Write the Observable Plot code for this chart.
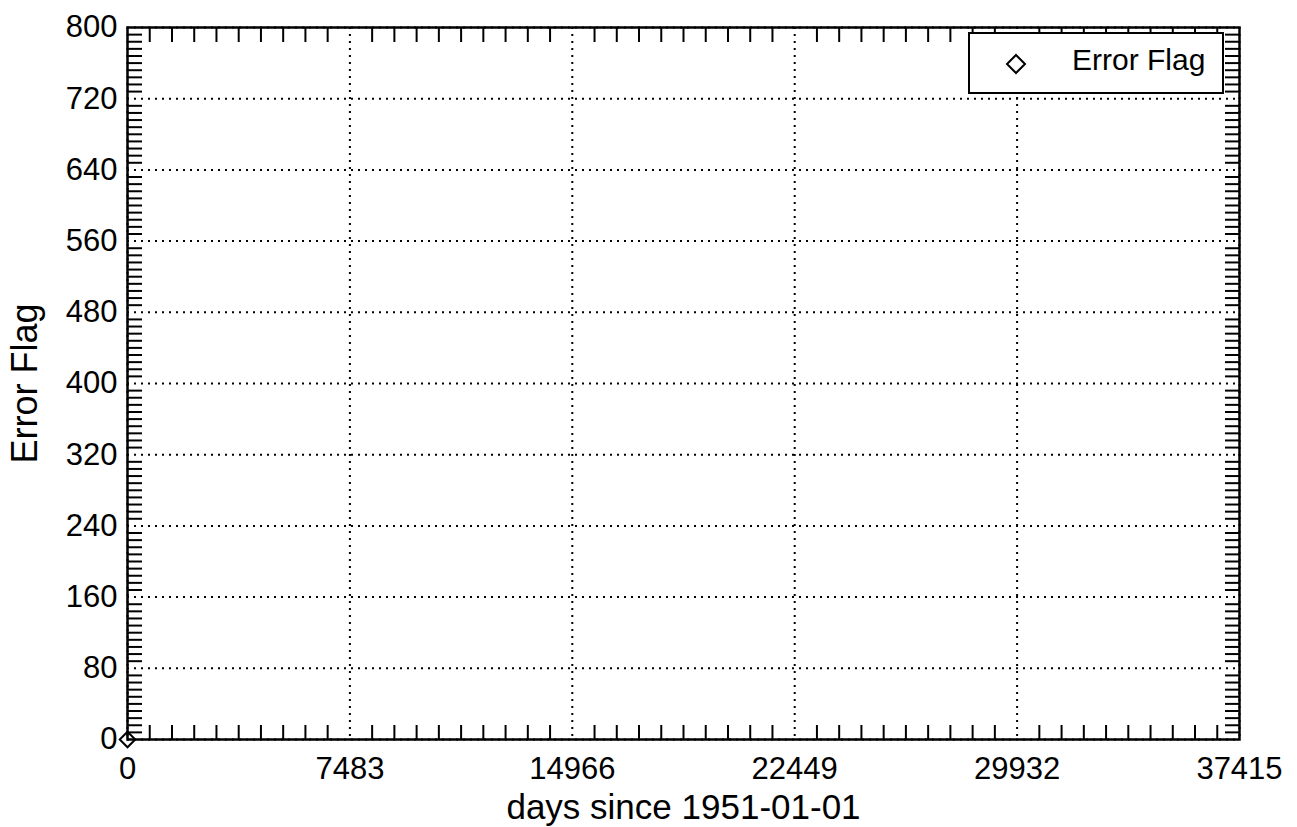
<!DOCTYPE html>
<html><head><meta charset="utf-8">
<script src="https://cdn.jsdelivr.net/npm/d3@7"></script>
<script src="https://cdn.jsdelivr.net/npm/@observablehq/plot@0.6"></script>
<style>
body{margin:0;background:#fff;font-family:"Liberation Sans",Arial,Helvetica,sans-serif;}
#wrap{position:relative;width:1297px;height:827px;}
#legend{position:absolute;left:968px;top:32px;width:256px;height:62px;box-sizing:border-box;border:2px solid #000;background:#fff;}
#legend svg{position:absolute;left:34px;top:18px;}
#legend span{position:absolute;left:102px;top:11px;font-size:30px;line-height:30px;white-space:nowrap;color:#000;}
</style></head><body><div id="wrap"></div>
<script>
const seriesName = "Error Flag";
const days = [0];
const errorFlag = [0];
const xTicks = [0, 7483, 14966, 22449, 29932, 37415];
const yTicks = [0, 80, 160, 240, 320, 400, 480, 560, 640, 720, 800];
const xLabel = "days since 1951-01-01";
const yLabel = "Error Flag";
const xMinorStep = 748.3;
const yMinorStep = 8;

const xMinor = d3.range(1, 50).filter(k => k % 10).map(k => k * xMinorStep);
const yMinor = d3.range(1, 100).filter(k => k % 10).map(k => k * yMinorStep);
const data = days.map((d, i) => ({day: d, flag: errorFlag[i]}));

const dotted = {stroke: "black", strokeOpacity: 1, strokeDasharray: "2,5", strokeWidth: 2};
const minor = {tickSize: -14, fill: "none", label: null, strokeWidth: 2, stroke: "black"};

const chart = Plot.plot({
  width: 1297, height: 827,
  marginLeft: 127, marginRight: 58, marginTop: 27, marginBottom: 88,
  style: {fontFamily: '"Liberation Sans", Arial, Helvetica, sans-serif', background: "white", color: "black"},
  x: {domain: [0, 37415]},
  y: {domain: [0, 800]},
  marks: [
    Plot.gridX(xTicks, dotted),
    Plot.gridY(yTicks, dotted),
    Plot.axisX(xMinor, {...minor, anchor: "bottom"}),
    Plot.axisX(xMinor, {...minor, anchor: "top"}),
    Plot.axisY(yMinor, {...minor, anchor: "left", tickSize: -15}),
    Plot.axisY(yMinor, {...minor, anchor: "right", tickSize: -15}),
    Plot.axisX(xTicks, {anchor: "bottom", tickSize: 0, tickPadding: 17, fontSize: 31, label: null, tickFormat: d => String(d), fill: "black"}),
    Plot.axisY(yTicks, {anchor: "left", tickSize: 0, tickPadding: 10, fontSize: 31, label: null, tickFormat: d => String(d), fill: "black"}),
    Plot.frame({stroke: "black", strokeWidth: 2.5}),
    Plot.text([xLabel], {text: d => d, frameAnchor: "bottom", dy: 79, lineAnchor: "bottom", fontSize: 35, fill: "black"}),
    Plot.text([yLabel], {text: d => d, frameAnchor: "left", dx: -102, rotate: -90, textAnchor: "middle", fontSize: 36, fill: "black"}),
    Plot.dot(data, {x: "day", y: "flag", symbol: "diamond2", r: 7, stroke: "black", strokeWidth: 2, fill: "none"})
  ]
});
const wrap = document.getElementById("wrap");
wrap.appendChild(chart);
const legend = document.createElement("div");
legend.id = "legend";
legend.innerHTML = '<svg width="24" height="24"><polygon points="12,3 21,12 12,21 3,12" fill="none" stroke="black" stroke-width="2"/></svg><span></span>';
legend.querySelector("span").textContent = seriesName;
wrap.appendChild(legend);
</script></body></html>
